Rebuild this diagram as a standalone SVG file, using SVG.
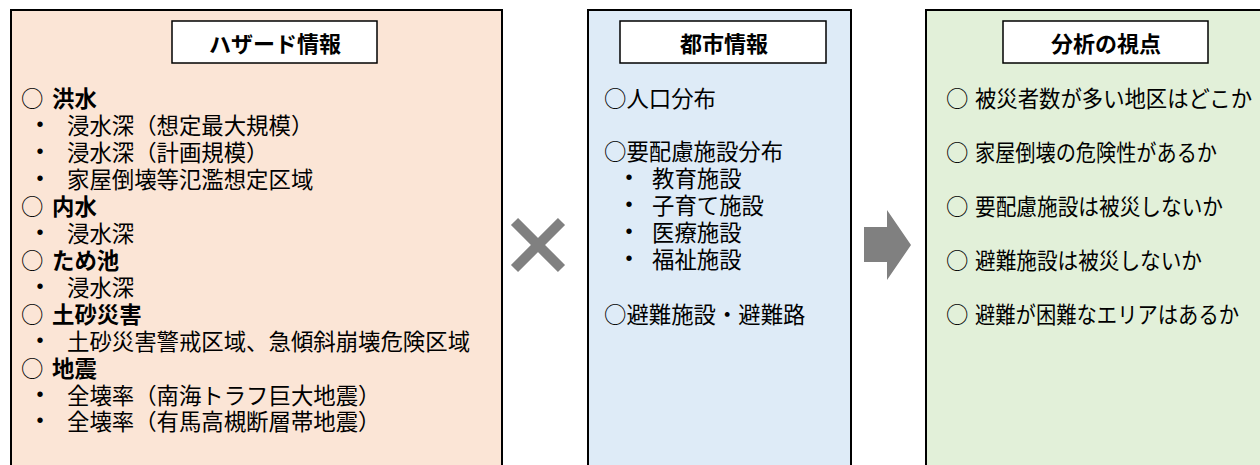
<svg xmlns="http://www.w3.org/2000/svg" width="1260" height="465" viewBox="0 0 1260 465">
  <style>
    text { font-family: "Noto Sans CJK JP", "Noto Sans CJK SC", sans-serif; font-size: 22.4px; fill: #000; dominant-baseline: central; }
    .h { font-weight: bold; }
    .t { font-weight: bold; font-size: 22px; text-anchor: middle; }
    .b { text-anchor: middle; font-family: "Liberation Sans", sans-serif; font-size: 20px; }
    .panel { stroke: #000; stroke-width: 2; }
    .title { fill: #fff; stroke: #000; stroke-width: 1.5; }
  </style>
  <rect width="1260" height="465" fill="#fff"/>

  <g id="hazard">
    <rect class="panel" x="11" y="10" width="491" height="470" fill="#FBE5D6"/>
    <rect class="title" x="172" y="21" width="205" height="42"/>
    <text class="t" x="275" y="42">ハザード情報</text>
    <text x="21" y="97">○</text><text class="h" x="52" y="97">洪水</text>
    <text class="b" x="40" y="124">•</text><text x="67" y="124">浸水深（想定最大規模）</text>
    <text class="b" x="40" y="151">•</text><text x="67" y="151">浸水深（計画規模）</text>
    <text class="b" x="40" y="178">•</text><text x="67" y="178">家屋倒壊等氾濫想定区域</text>
    <text x="21" y="205">○</text><text class="h" x="52" y="205">内水</text>
    <text class="b" x="40" y="232">•</text><text x="67" y="232">浸水深</text>
    <text x="21" y="259">○</text><text class="h" x="52" y="259">ため池</text>
    <text class="b" x="40" y="286">•</text><text x="67" y="286">浸水深</text>
    <text x="21" y="313">○</text><text class="h" x="52" y="313">土砂災害</text>
    <text class="b" x="40" y="340">•</text><text x="67" y="340">土砂災害警戒区域、急傾斜崩壊危険区域</text>
    <text x="21" y="367">○</text><text class="h" x="52" y="367">地震</text>
    <text class="b" x="40" y="394">•</text><text x="67" y="394">全壊率（南海トラフ巨大地震）</text>
    <text class="b" x="40" y="420">•</text><text x="67" y="420">全壊率（有馬高槻断層帯地震）</text>
  </g>

  <g id="city">
    <rect class="panel" x="588" y="10" width="263" height="470" fill="#DEEBF7"/>
    <rect class="title" x="620" y="21" width="206" height="42"/>
    <text class="t" x="724" y="42">都市情報</text>
    <text x="604" y="97">○人口分布</text>
    <text x="604" y="150">○要配慮施設分布</text>
    <text class="b" x="629" y="177">•</text><text x="652" y="177">教育施設</text>
    <text class="b" x="629" y="204">•</text><text x="652" y="204">子育て施設</text>
    <text class="b" x="629" y="231">•</text><text x="652" y="231">医療施設</text>
    <text class="b" x="629" y="258">•</text><text x="652" y="258">福祉施設</text>
    <text x="604" y="313">○避難施設・避難路</text>
  </g>

  <g id="analysis">
    <rect class="panel" x="926" y="10" width="344" height="470" fill="#E2F0D9"/>
    <rect class="title" x="1003" y="21" width="205" height="42"/>
    <text class="t" x="1106" y="42">分析の視点</text>
    <text x="946" y="97">○</text><text x="975" y="97" textLength="277" lengthAdjust="spacingAndGlyphs">被災者数が多い地区はどこか</text>
    <text x="946" y="151">○</text><text x="975" y="151" textLength="242" lengthAdjust="spacingAndGlyphs">家屋倒壊の危険性があるか</text>
    <text x="946" y="205">○</text><text x="975" y="205" textLength="248" lengthAdjust="spacingAndGlyphs">要配慮施設は被災しないか</text>
    <text x="946" y="259">○</text><text x="975" y="259" textLength="227" lengthAdjust="spacingAndGlyphs">避難施設は被災しないか</text>
    <text x="946" y="313">○</text><text x="975" y="313" textLength="264" lengthAdjust="spacingAndGlyphs">避難が困難なエリアはあるか</text>
  </g>

  <g id="connectors">
    <path d="M514.5 221.5 L561.5 268.5 M561.5 221.5 L514.5 268.5" stroke="#808080" stroke-width="10" fill="none"/>
    <polygon points="864,227 887,227 887,210 911,245 887,280 887,262 864,262" fill="#808080"/>
  </g>
</svg>
